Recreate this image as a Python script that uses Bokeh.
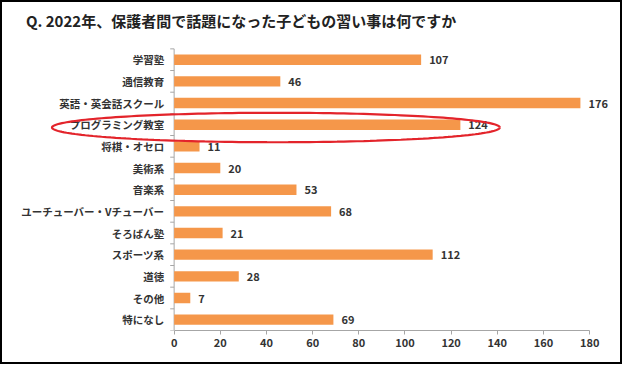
import numpy as np
from bokeh.plotting import figure
from bokeh.models import Range1d, FixedTicker, ColumnDataSource, Label
from bokeh.core.properties import value
from bokeh.embed import file_html
from bokeh.resources import INLINE

title_text = "Q. 2022年、保護者間で話題になった子どもの習い事は何ですか"
categories = ["学習塾", "通信教育", "英語・英会話スクール", "プログラミング教室", "将棋・オセロ",
              "美術系", "音楽系", "ユーチューバー・Vチューバー", "そろばん塾", "スポーツ系",
              "道徳", "その他", "特になし"]
counts = [107, 46, 176, 124, 11, 20, 53, 68, 21, 112, 28, 7, 69]
x_ticks = [0, 20, 40, 60, 80, 100, 120, 140, 160, 180]
highlight = "プログラミング教室"

FONT = "Noto Sans CJK JP"
BAR = "#F5974A"
AXIS = "#a6a6a6"

n = len(categories)
idx = list(range(n))
src = ColumnDataSource(dict(y=idx, v=counts, cat=categories, lab=[str(c) for c in counts]))

p = figure(width=622, height=364, output_backend="svg", toolbar_location=None,
           x_range=Range1d(-74.35, 195.1), y_range=Range1d(n - 0.5, -2.64),
           y_axis_location=None, min_border_left=0, min_border_right=0,
           min_border_top=0, min_border_bottom=36)
p.styles = {"border": "2px solid black"}
p.outline_line_color = None
p.xgrid.visible = False
p.ygrid.visible = False
p.background_fill_color = "white"
p.border_fill_color = "white"

xa = p.xaxis[0]
xa.ticker = FixedTicker(ticks=x_ticks)
xa.bounds = (x_ticks[0], x_ticks[-1])
xa.axis_line_color = AXIS
xa.major_tick_line_color = AXIS
xa.major_tick_out = 4
xa.major_tick_in = 0
xa.minor_tick_line_color = None
xa.major_label_standoff = 3
xa.major_label_text_font = FONT
xa.major_label_text_font_size = "11px"
xa.major_label_text_font_style = "bold"
xa.major_label_text_color = "#333333"

# y axis line and category boundary ticks
p.segment(x0=[0], x1=[0], y0=[-0.5], y1=[n - 0.5], line_color=AXIS, line_width=1)
bounds = [i - 0.5 for i in range(n + 1)]
p.segment(x0=[-1.7] * len(bounds), x1=[0] * len(bounds), y0=bounds, y1=bounds,
          line_color=AXIS, line_width=1)

p.hbar(y="y", left=0, right="v", height=0.48, source=src, fill_color=BAR, line_color=None)

p.text(x="v", y="y", text="lab", source=src, x_offset=8, text_align="left",
       text_baseline="middle", text_font=value(FONT), text_font_size="11px",
       text_font_style="bold", text_color="#333333")
p.text(x=0, y="y", text="cat", source=src, x_offset=-10, text_align="right",
       text_baseline="middle", text_font=value(FONT), text_font_size="10.5px",
       text_font_style="bold", text_color="#333333")

# highlight ring around the emphasised category
hi = categories.index(highlight)
t = np.linspace(0, 2 * np.pi, 200)
ex = 44.1 + 97.0 * np.cos(t)
ey = hi + 0.13 + 0.68 * np.sin(t)
p.line(x=ex, y=ey, line_color="#e3242b", line_width=2.2)

p.add_layout(Label(x=-64.2, y=-2.3, text=title_text, text_font=FONT, text_font_size="15px",
                   text_font_style="bold", text_baseline="top", text_align="left",
                   text_color="#222222"))

open("out.html", "w").write(file_html(p, INLINE))
